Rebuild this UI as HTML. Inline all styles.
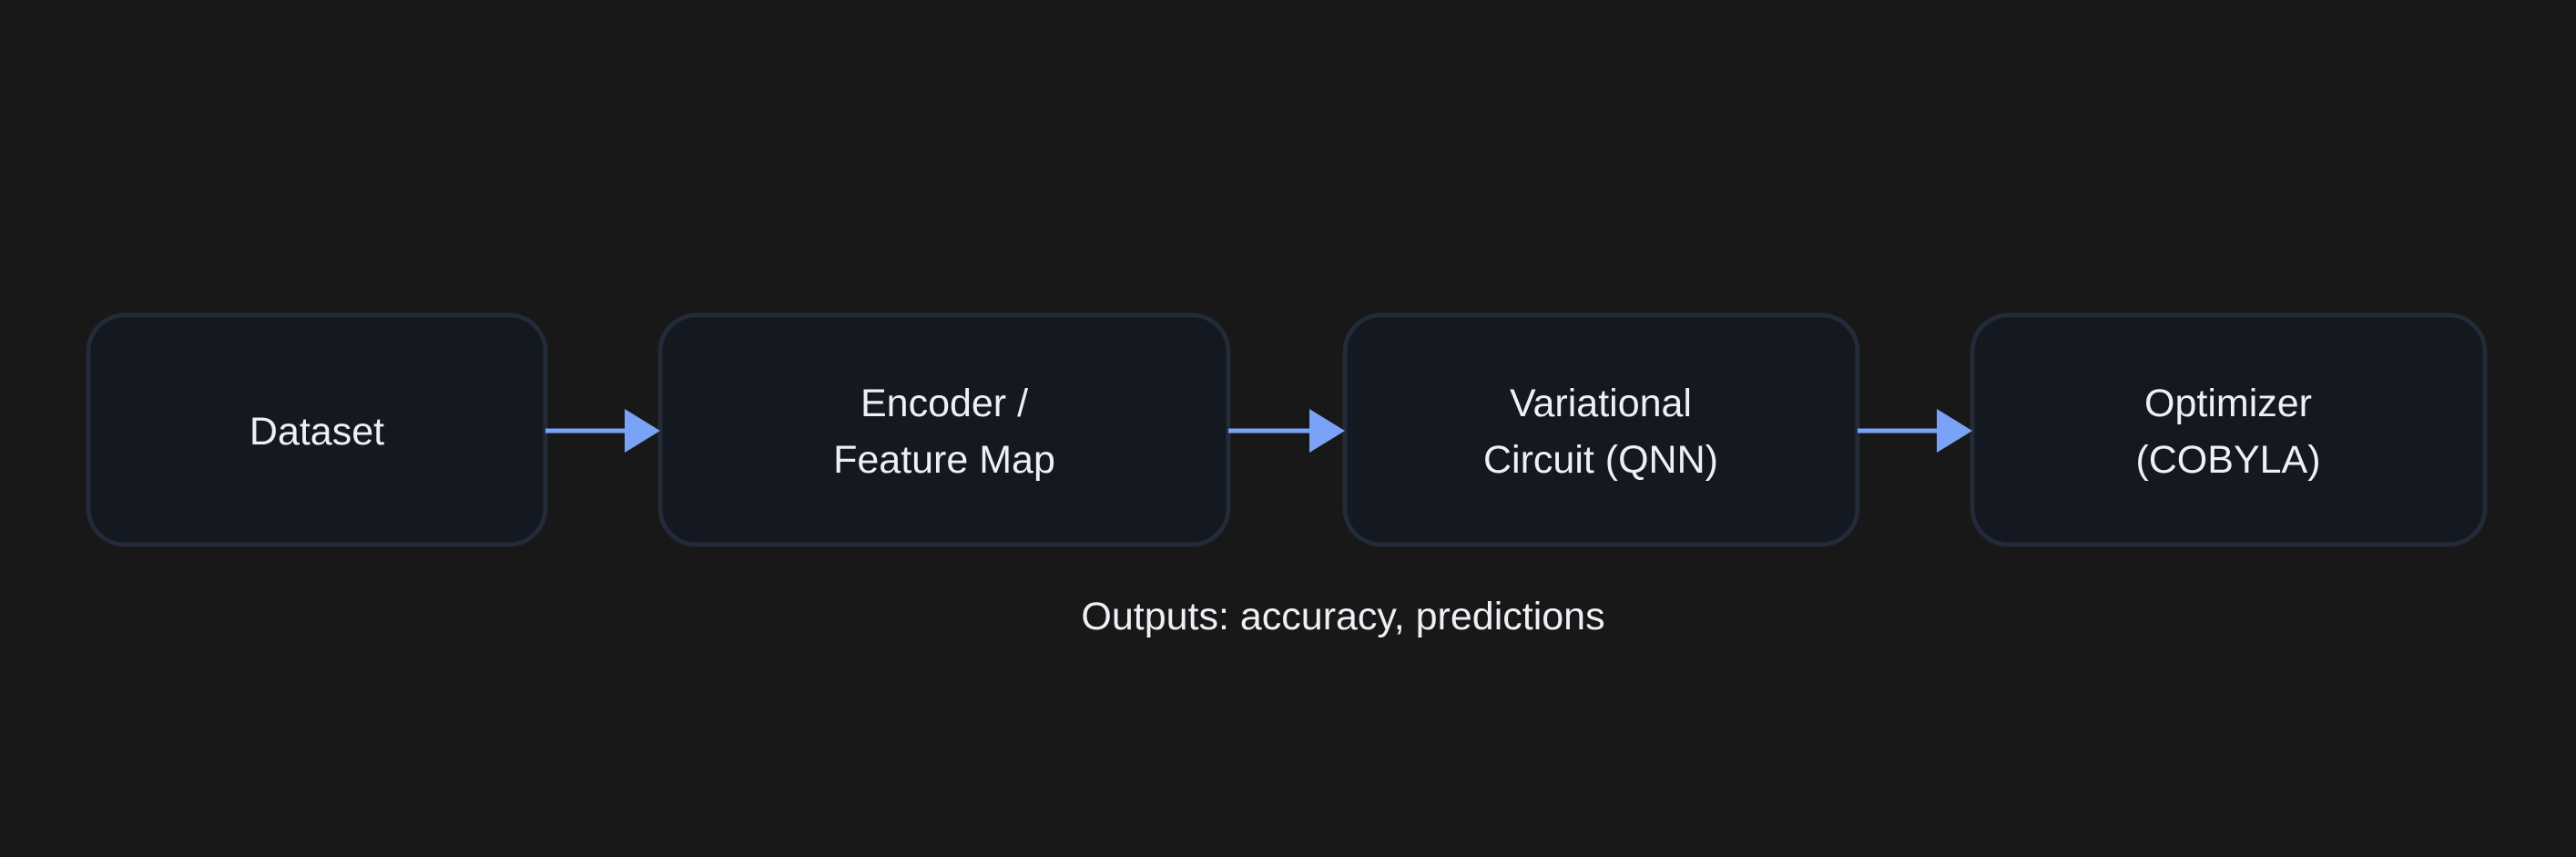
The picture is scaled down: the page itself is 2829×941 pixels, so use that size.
<!DOCTYPE html>
<html><head><style>
html,body{margin:0;padding:0;background:#181818;}
svg{display:block}
text{font-family:"Liberation Sans",Arial,sans-serif;fill:#eef0f6;font-size:43px;text-anchor:middle}
</style></head><body>
<svg width="2829" height="941" viewBox="0 0 2829 941">
<rect width="2829" height="941" fill="#181818"/>
<g fill="#141820" stroke="#232a38" stroke-width="5">
<rect x="97" y="346" width="502" height="252" rx="40"/>
<rect x="725" y="346" width="624" height="252" rx="40"/>
<rect x="1477" y="346" width="563" height="252" rx="40"/>
<rect x="2166" y="346" width="563" height="252" rx="40"/>
</g>
<g stroke="#7aa2f7" stroke-width="5">
<line x1="599" y1="473" x2="690" y2="473"/>
<line x1="1349" y1="473" x2="1442" y2="473"/>
<line x1="2040" y1="473" x2="2132" y2="473"/>
</g>
<g fill="#7aa2f7">
<polygon points="686,449 725,473 686,497"/>
<polygon points="1438,449 1477,473 1438,497"/>
<polygon points="2127,449 2166,473 2127,497"/>
</g>
<text x="348" y="488">Dataset</text>
<text x="1037" y="457">Encoder /</text>
<text x="1037" y="519">Feature Map</text>
<text x="1758" y="457">Variational</text>
<text x="1758" y="519">Circuit (QNN)</text>
<text x="2447" y="457">Optimizer</text>
<text x="2447" y="519">(COBYLA)</text>
<text x="1475" y="691">Outputs: accuracy, predictions</text>
</svg>
</body></html>
